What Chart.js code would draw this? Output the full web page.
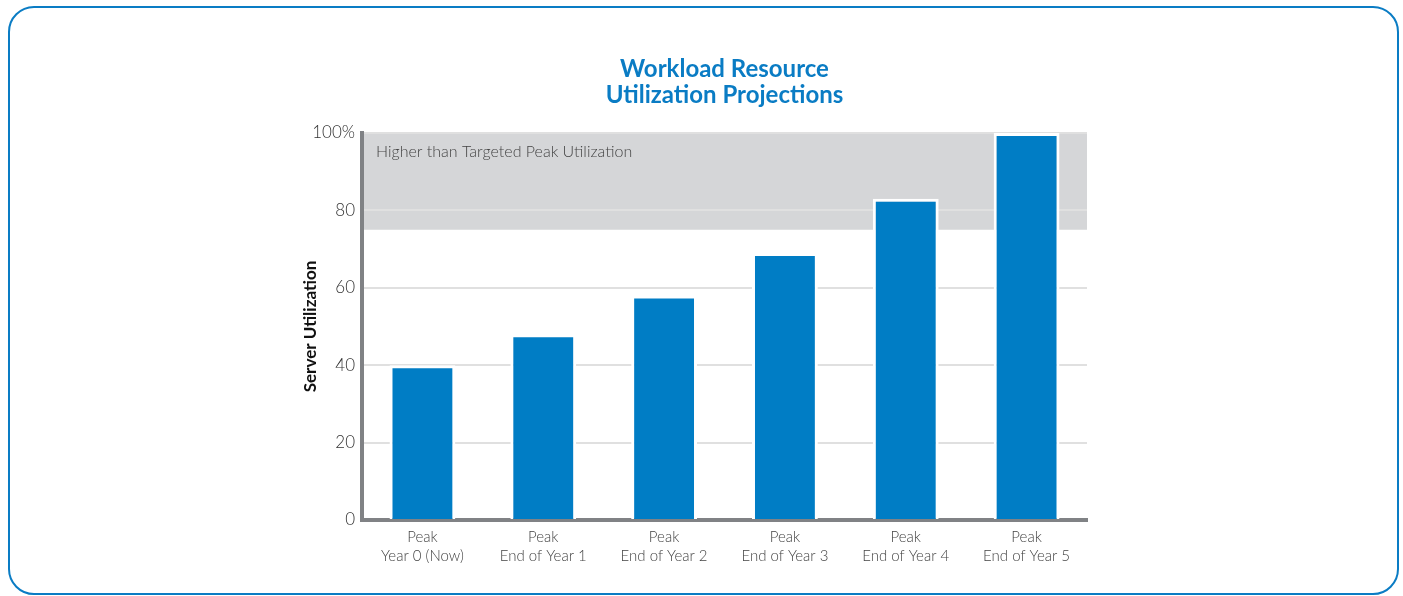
<!DOCTYPE html>
<html>
<head>
<meta charset="utf-8">
<script src="https://cdn.jsdelivr.net/npm/chart.js@4"></script>
<style>
  body { margin: 0; background: #fff; }
  #frame {
    position: absolute; left: 8px; top: 6px; width: 1387px; height: 585px;
    border: 2px solid #0a7cc4; border-radius: 26px;
  }
  #wrap { position: absolute; left: 0; top: 0; width: 1403px; height: 596px; }
</style>
</head>
<body>
<div id="frame"></div>
<div id="wrap"><canvas id="barchart"></canvas></div>
<script>
const categories = [
    ['Peak', 'Year 0 (Now)'],
    ['Peak', 'End of Year 1'],
    ['Peak', 'End of Year 2'],
    ['Peak', 'End of Year 3'],
    ['Peak', 'End of Year 4'],
    ['Peak', 'End of Year 5']
];
const utilization = [40, 48, 58, 69, 83, 100];
const yTicks = [0, 20, 40, 60, 80, 100];
const targetPeak = 75;
const bandLabel = 'Higher than Targeted Peak Utilization';

const FONT = 'Lato, "Open Sans", sans-serif';

// grey band above the targeted peak, drawn under the grid
const bandPlugin = {
    id: 'band',
    beforeDraw(chart) {
        const { ctx, chartArea, scales } = chart;
        const yTop = scales.y.getPixelForValue(100);
        const yBot = scales.y.getPixelForValue(targetPeak);
        ctx.save();
        ctx.fillStyle = '#d5d6d8';
        ctx.fillRect(chartArea.left, yTop, chartArea.right - chartArea.left, yBot - yTop);
        ctx.fillStyle = '#444';
        ctx.font = '300 16px ' + FONT;
        ctx.textBaseline = 'middle';
        ctx.fillText(bandLabel, chartArea.left + 14, yTop + 19);
        ctx.restore();
    }
};

const ctx = document.getElementById('barchart').getContext('2d');
const barchart = new Chart(ctx, {
    type: 'bar',
    data: {
        labels: categories,
        datasets: [{
            label: 'Server Utilization',
            data: utilization,
            backgroundColor: '#007dc5',
            borderColor: '#ffffff',
            borderWidth: 3,
            borderSkipped: 'start',
            barPercentage: 0.545,
            categoryPercentage: 1
        }]
    },
    plugins: [bandPlugin],
    options: {
        responsive: true,
        maintainAspectRatio: false,
        animation: false,
        layout: {
            padding: { left: 300, right: 316, top: 0, bottom: 25 }
        },
        plugins: {
            legend: { display: false },
            tooltip: { enabled: false },
            title: {
                display: true,
                fullSize: false,
                text: ['Workload Resource', 'Utilization Projections'],
                color: '#0a7cc4',
                font: { family: FONT, size: 24, weight: 'bold', lineHeight: 26 / 24 },
                padding: { top: 56, bottom: 25 }
            }
        },
        scales: {
            x: {
                grid: { display: false },
                border: { display: true, color: '#808285', width: 4 },
                ticks: {
                    color: '#444',
                    padding: 0,
                    font: { family: FONT, size: 15, weight: 300, lineHeight: 1.25 }
                },
                afterFit(scale) { scale.height = 51; }
            },
            y: {
                min: 0,
                max: 100,
                afterBuildTicks(scale) {
                    scale.ticks = yTicks.map(v => ({ value: v }));
                },
                grid: { color: '#e0e0e0', lineWidth: 2, drawTicks: false },
                border: { display: true, color: '#808285', width: 4 },
                ticks: {
                    color: '#333',
                    padding: 7,
                    font: { family: FONT, size: 17, weight: 300 },
                    callback: v => v === 100 ? '100%' : v
                },
                title: {
                    display: true,
                    text: 'Server Utilization',
                    color: '#111',
                    font: { family: FONT, size: 17, weight: 'bold' },
                    padding: 0
                },
                afterFit(scale) { scale.width = 62; }
            }
        }
    }
});
</script>
</body>
</html>
